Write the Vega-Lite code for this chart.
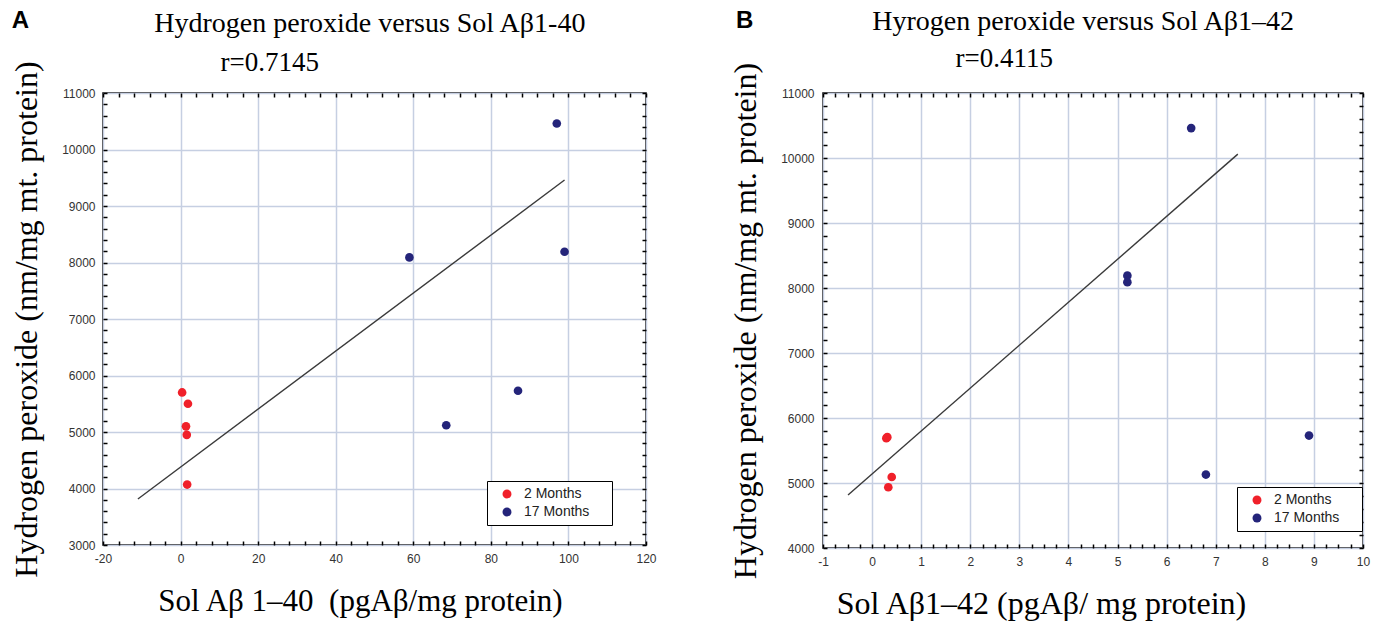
{
  "$schema": "https://vega.github.io/schema/vega-lite/v6.json",
  "background": "white",
  "padding": {"left": 9, "top": 7, "right": 5, "bottom": 3},
  "config": {"view": {"stroke": "#000", "strokeWidth": 1.5}, "font": "Liberation Sans"},
  "bounds": "flush",
  "spacing": 177,
  "resolve": {"scale": {"color": "independent"}, "legend": {"color": "independent"}},
  "datasets": {
    "pointsA": [
      {"group": "2 Months", "sol": 0.4, "h2o2": 5700},
      {"group": "2 Months", "sol": 1.9, "h2o2": 5500},
      {"group": "2 Months", "sol": 1.4, "h2o2": 5100},
      {"group": "2 Months", "sol": 1.6, "h2o2": 4950},
      {"group": "2 Months", "sol": 1.7, "h2o2": 4070},
      {"group": "17 Months", "sol": 59, "h2o2": 8090},
      {"group": "17 Months", "sol": 68.5, "h2o2": 5120},
      {"group": "17 Months", "sol": 87, "h2o2": 5730},
      {"group": "17 Months", "sol": 97, "h2o2": 10460},
      {"group": "17 Months", "sol": 99, "h2o2": 8190}
    ],
    "lineA": [
      {"sol": -11, "h2o2": 3815},
      {"sol": 99, "h2o2": 9460}
    ],
    "pointsB": [
      {"group": "2 Months", "sol": 0.29, "h2o2": 5690},
      {"group": "2 Months", "sol": 0.31, "h2o2": 5705},
      {"group": "2 Months", "sol": 0.4, "h2o2": 5092},
      {"group": "2 Months", "sol": 0.33, "h2o2": 4934},
      {"group": "17 Months", "sol": 6.5, "h2o2": 10460},
      {"group": "17 Months", "sol": 5.2, "h2o2": 8190},
      {"group": "17 Months", "sol": 5.2, "h2o2": 8090},
      {"group": "17 Months", "sol": 6.8, "h2o2": 5130},
      {"group": "17 Months", "sol": 8.9, "h2o2": 5730}
    ],
    "lineB": [
      {"sol": -0.49, "h2o2": 4816},
      {"sol": 7.45, "h2o2": 10060}
    ]
  },
  "hconcat": [
    {
      "width": 543,
      "height": 452,
      "layer": [
        {
          "data": {"name": "pointsA"},
          "mark": {"type": "circle", "size": 75, "opacity": 1},
          "encoding": {
            "x": {"field": "sol", "type": "quantitative", "scale": {"domain": [-20, 120], "nice": false, "zero": false},
              "axis": {"orient": "bottom", "values": [-20,-16,-12,-8,-4,0,4,8,12,16,20,24,28,32,36,40,44,48,52,56,60,64,68,72,76,80,84,88,92,96,100,104,108,112,116,120],
                "labelExpr": "datum.value % 20 === 0 ? '' + datum.value : ''",
                "gridOpacity": {"condition": {"test": "datum.value % 20 === 0", "value": 1}, "value": 0},
                "gridColor": "#c6cfe2", "gridWidth": 1.5, "domain": false, "tickSize": -4, "tickColor": "#000", "tickWidth": 1.5,
                "labelPadding": 12, "labelFont": "Liberation Sans", "labelFontSize": 12, "labelColor": "#333", "labelFlush": false, "labelOverlap": false,
                "title": "Sol Aβ 1–40\u00a0 (pgAβ/mg protein)", "titleFont": "Liberation Serif", "titleFontSize": 31, "titleFontWeight": "normal", "titleColor": "#000", "titlePadding": 22, "titleX": 257}},
            "y": {"field": "h2o2", "type": "quantitative", "scale": {"domain": [3000, 11000], "nice": false, "zero": false},
              "axis": {"orient": "left", "values": [3000,3200,3400,3600,3800,4000,4200,4400,4600,4800,5000,5200,5400,5600,5800,6000,6200,6400,6600,6800,7000,7200,7400,7600,7800,8000,8200,8400,8600,8800,9000,9200,9400,9600,9800,10000,10200,10400,10600,10800,11000],
                "labelExpr": "datum.value % 1000 === 0 ? '' + datum.value : ''",
                "gridOpacity": {"condition": {"test": "datum.value % 1000 === 0", "value": 1}, "value": 0},
                "gridColor": "#c6cfe2", "gridWidth": 1.5, "domain": false, "tickSize": -4, "tickColor": "#000", "tickWidth": 1.5,
                "labelPadding": 12, "labelFont": "Liberation Sans", "labelFontSize": 12, "labelColor": "#333", "labelOverlap": false,
                "title": "Hydrogen peroxide (nm/mg mt. protein)", "titleFont": "Liberation Serif", "titleFontSize": 32, "titleFontWeight": "normal", "titleColor": "#000", "titlePadding": 18}},
            "color": {"field": "group", "type": "nominal", "scale": {"domain": ["2 Months", "17 Months"], "range": ["#f0202a", "#24247a"]},
              "legend": {"title": "m", "titleOrient": "right", "titleFontSize": 12, "titlePadding": 6, "titleColor": "rgba(0,0,0,0)",
                "orient": "none", "legendX": 384, "legendY": 388, "strokeColor": "#000", "fillColor": "white",
                "padding": 6, "symbolOffset": 7, "labelOffset": 10, "labelFontSize": 14, "labelFont": "Liberation Sans", "labelColor": "#222",
                "symbolType": "circle", "symbolSize": 80, "rowPadding": 4}}
          }
        },
        {
          "data": {"name": "lineA"},
          "mark": {"type": "line", "color": "#3a3a3a", "strokeWidth": 1.4},
          "encoding": {
            "x": {"field": "sol", "type": "quantitative", "scale": {"domain": [-20, 120], "nice": false, "zero": false},
              "axis": {"orient": "top", "values": [-20,-16,-12,-8,-4,0,4,8,12,16,20,24,28,32,36,40,44,48,52,56,60,64,68,72,76,80,84,88,92,96,100,104,108,112,116,120],
                "labels": false, "grid": false, "domain": false, "tickSize": -4, "tickColor": "#000", "tickWidth": 1.5, "title": null}},
            "y": {"field": "h2o2", "type": "quantitative", "scale": {"domain": [3000, 11000], "nice": false, "zero": false},
              "axis": {"orient": "right", "values": [3000,3200,3400,3600,3800,4000,4200,4400,4600,4800,5000,5200,5400,5600,5800,6000,6200,6400,6600,6800,7000,7200,7400,7600,7800,8000,8200,8400,8600,8800,9000,9200,9400,9600,9800,10000,10200,10400,10600,10800,11000],
                "labels": false, "grid": false, "domain": false, "tickSize": -4, "tickColor": "#000", "tickWidth": 1.5, "title": null}}
          }
        },
        {
          "data": {"values": [{}]},
          "mark": {"type": "text", "font": "Liberation Serif", "fontSize": 28, "color": "#000", "align": "center", "baseline": "middle"},
          "encoding": {
            "x": {"datum": 48.8, "type": "quantitative", "scale": {"domain": [-20, 120], "nice": false, "zero": false}, "axis": null},
            "y": {"datum": 12220, "type": "quantitative", "scale": {"domain": [3000, 11000], "nice": false, "zero": false}, "axis": null},
            "text": {"value": "Hydrogen peroxide versus Sol Aβ1-40"}
          }
        },
        {
          "data": {"values": [{}]},
          "mark": {"type": "text", "font": "Liberation Serif", "fontSize": 27, "color": "#000", "align": "center", "baseline": "middle"},
          "encoding": {
            "x": {"datum": 23, "type": "quantitative", "scale": {"domain": [-20, 120], "nice": false, "zero": false}, "axis": null},
            "y": {"datum": 11530, "type": "quantitative", "scale": {"domain": [3000, 11000], "nice": false, "zero": false}, "axis": null},
            "text": {"value": "r=0.7145"}
          }
        },
        {
          "data": {"values": [{}]},
          "mark": {"type": "text", "font": "Liberation Sans", "fontWeight": "bold", "fontSize": 24, "color": "#000", "align": "left", "baseline": "middle"},
          "encoding": {
            "x": {"datum": -43.5, "type": "quantitative", "scale": {"domain": [-20, 120], "nice": false, "zero": false}, "axis": null},
            "y": {"datum": 12275, "type": "quantitative", "scale": {"domain": [3000, 11000], "nice": false, "zero": false}, "axis": null},
            "text": {"value": "A"}
          }
        }
      ],
      "resolve": {"axis": {"x": "independent", "y": "independent"}}
    },
    {
      "width": 540,
      "height": 455,
      "layer": [
        {
          "data": {"name": "pointsB"},
          "mark": {"type": "circle", "size": 75, "opacity": 1},
          "encoding": {
            "x": {"field": "sol", "type": "quantitative", "scale": {"domain": [-1, 10], "nice": false, "zero": false},
              "axis": {"orient": "bottom", "values": [-1,-0.75,-0.5,-0.25,0,0.25,0.5,0.75,1,1.25,1.5,1.75,2,2.25,2.5,2.75,3,3.25,3.5,3.75,4,4.25,4.5,4.75,5,5.25,5.5,5.75,6,6.25,6.5,6.75,7,7.25,7.5,7.75,8,8.25,8.5,8.75,9,9.25,9.5,9.75,10],
                "labelExpr": "datum.value % 1 === 0 ? '' + datum.value : ''",
                "gridOpacity": {"condition": {"test": "datum.value % 1 === 0", "value": 1}, "value": 0},
                "gridColor": "#c6cfe2", "gridWidth": 1.5, "domain": false, "tickSize": -4, "tickColor": "#000", "tickWidth": 1.5,
                "labelPadding": 12, "labelFont": "Liberation Sans", "labelFontSize": 12, "labelColor": "#333", "labelFlush": false, "labelOverlap": false,
                "title": "Sol Aβ1–42 (pgAβ/ mg protein)", "titleFont": "Liberation Serif", "titleFontSize": 32, "titleFontWeight": "normal", "titleColor": "#000", "titlePadding": 21, "titleX": 218}},
            "y": {"field": "h2o2", "type": "quantitative", "scale": {"domain": [4000, 11000], "nice": false, "zero": false},
              "axis": {"orient": "left", "values": [4000,4200,4400,4600,4800,5000,5200,5400,5600,5800,6000,6200,6400,6600,6800,7000,7200,7400,7600,7800,8000,8200,8400,8600,8800,9000,9200,9400,9600,9800,10000,10200,10400,10600,10800,11000],
                "labelExpr": "datum.value % 1000 === 0 ? '' + datum.value : ''",
                "gridOpacity": {"condition": {"test": "datum.value % 1000 === 0", "value": 1}, "value": 0},
                "gridColor": "#c6cfe2", "gridWidth": 1.5, "domain": false, "tickSize": -4, "tickColor": "#000", "tickWidth": 1.5,
                "labelPadding": 13, "labelFont": "Liberation Sans", "labelFontSize": 12, "labelColor": "#333", "labelOverlap": false,
                "title": "Hydrogen peroxide (nm/mg mt. protein)", "titleFont": "Liberation Serif", "titleFontSize": 32, "titleFontWeight": "normal", "titleColor": "#000", "titlePadding": 18}},
            "color": {"field": "group", "type": "nominal", "scale": {"domain": ["2 Months", "17 Months"], "range": ["#f0202a", "#24247a"]},
              "legend": {"title": "m", "titleOrient": "right", "titleFontSize": 12, "titlePadding": 6, "titleColor": "rgba(0,0,0,0)",
                "orient": "none", "legendX": 414, "legendY": 394, "strokeColor": "#000", "fillColor": "white",
                "padding": 6, "symbolOffset": 7, "labelOffset": 10, "labelFontSize": 14, "labelFont": "Liberation Sans", "labelColor": "#222",
                "symbolType": "circle", "symbolSize": 80, "rowPadding": 4}}
          }
        },
        {
          "data": {"name": "lineB"},
          "mark": {"type": "line", "color": "#3a3a3a", "strokeWidth": 1.4},
          "encoding": {
            "x": {"field": "sol", "type": "quantitative", "scale": {"domain": [-1, 10], "nice": false, "zero": false},
              "axis": {"orient": "top", "values": [-1,-0.75,-0.5,-0.25,0,0.25,0.5,0.75,1,1.25,1.5,1.75,2,2.25,2.5,2.75,3,3.25,3.5,3.75,4,4.25,4.5,4.75,5,5.25,5.5,5.75,6,6.25,6.5,6.75,7,7.25,7.5,7.75,8,8.25,8.5,8.75,9,9.25,9.5,9.75,10],
                "labels": false, "grid": false, "domain": false, "tickSize": -4, "tickColor": "#000", "tickWidth": 1.5, "title": null}},
            "y": {"field": "h2o2", "type": "quantitative", "scale": {"domain": [4000, 11000], "nice": false, "zero": false},
              "axis": {"orient": "right", "values": [4000,4200,4400,4600,4800,5000,5200,5400,5600,5800,6000,6200,6400,6600,6800,7000,7200,7400,7600,7800,8000,8200,8400,8600,8800,9000,9200,9400,9600,9800,10000,10200,10400,10600,10800,11000],
                "labels": false, "grid": false, "domain": false, "tickSize": -4, "tickColor": "#000", "tickWidth": 1.5, "title": null}}
          }
        },
        {
          "data": {"values": [{}]},
          "mark": {"type": "text", "font": "Liberation Serif", "fontSize": 28, "color": "#000", "align": "center", "baseline": "middle"},
          "encoding": {
            "x": {"datum": 4.3, "type": "quantitative", "scale": {"domain": [-1, 10], "nice": false, "zero": false}, "axis": null},
            "y": {"datum": 12090, "type": "quantitative", "scale": {"domain": [4000, 11000], "nice": false, "zero": false}, "axis": null},
            "text": {"value": "Hyrogen peroxide versus Sol Aβ1–42"}
          }
        },
        {
          "data": {"values": [{}]},
          "mark": {"type": "text", "font": "Liberation Serif", "fontSize": 27, "color": "#000", "align": "center", "baseline": "middle"},
          "encoding": {
            "x": {"datum": 2.69, "type": "quantitative", "scale": {"domain": [-1, 10], "nice": false, "zero": false}, "axis": null},
            "y": {"datum": 11520, "type": "quantitative", "scale": {"domain": [4000, 11000], "nice": false, "zero": false}, "axis": null},
            "text": {"value": "r=0.4115"}
          }
        },
        {
          "data": {"values": [{}]},
          "mark": {"type": "text", "font": "Liberation Sans", "fontWeight": "bold", "fontSize": 24, "color": "#000", "align": "left", "baseline": "middle"},
          "encoding": {
            "x": {"datum": -2.77, "type": "quantitative", "scale": {"domain": [-1, 10], "nice": false, "zero": false}, "axis": null},
            "y": {"datum": 12110, "type": "quantitative", "scale": {"domain": [4000, 11000], "nice": false, "zero": false}, "axis": null},
            "text": {"value": "B"}
          }
        }
      ],
      "resolve": {"axis": {"x": "independent", "y": "independent"}}
    }
  ]
}
